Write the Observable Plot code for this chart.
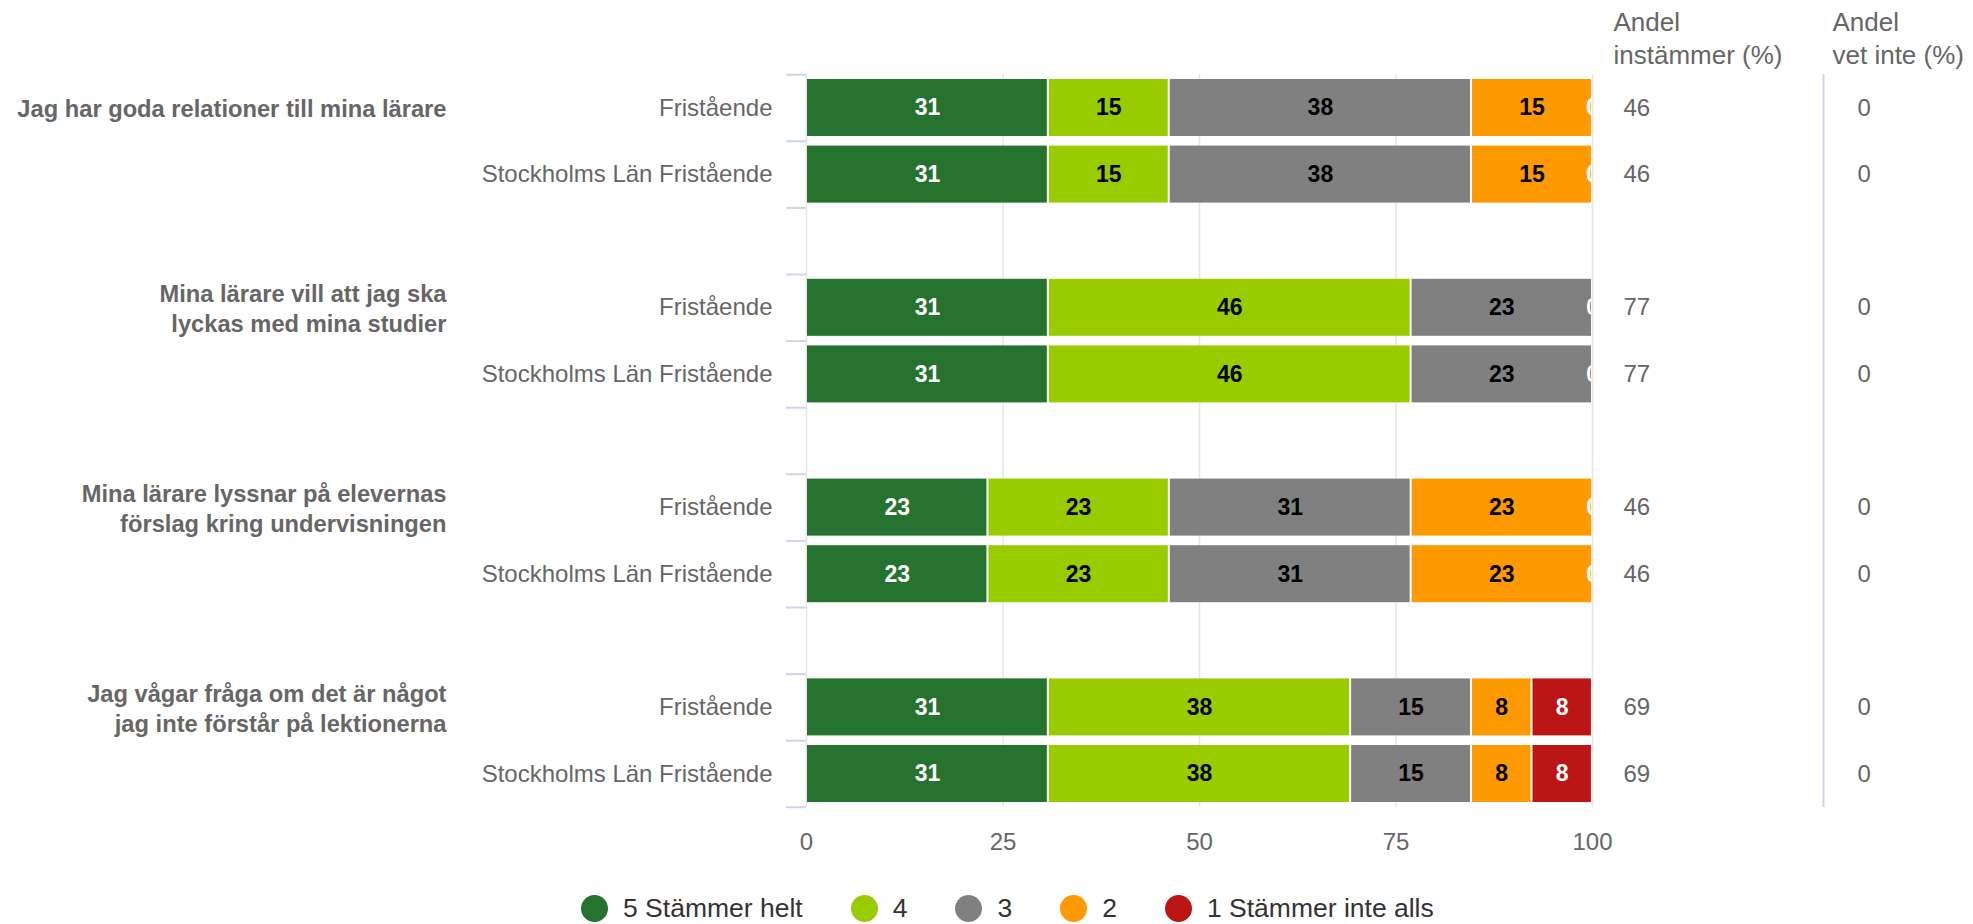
<!DOCTYPE html>
<html><head><meta charset="utf-8">
<script src="https://cdn.jsdelivr.net/npm/d3@7"></script>
<script src="https://cdn.jsdelivr.net/npm/@observablehq/plot@0.6"></script>
<style>
body{margin:0;background:#fff;font-family:"Liberation Sans",Arial,sans-serif;}
#wrap{position:relative;width:1973px;height:924px;overflow:hidden;}
#legend{position:absolute;left:581px;top:888px;height:40px;display:flex;align-items:center;font-size:26.5px;color:#333;white-space:nowrap;}
.item{display:flex;align-items:center;margin-right:48px;}
.dot{width:27px;height:27px;border-radius:50%;margin-right:15px;}
</style></head>
<body><div id="wrap"><div id="chart"></div><div id="legend"></div></div>
<script>
const questions = [
  "Jag har goda relationer till mina lärare",
  "Mina lärare vill att jag ska\nlyckas med mina studier",
  "Mina lärare lyssnar på elevernas\nförslag kring undervisningen",
  "Jag vågar fråga om det är något\njag inte förstår på lektionerna"
];
const groups = ["Fristående", "Stockholms Län Fristående"];
const categories = ["5 Stämmer helt", "4", "3", "2", "1 Stämmer inte alls"];
const colors = ["#267330", "#99cc00", "#808080", "#ff9900", "#bb1515"];
// one value per row: q1 Fristående, q1 Stockholm, q2 ..., q4 Stockholm
const cat5 = [30.77, 30.77, 30.77, 30.77, 23.08, 23.08, 30.77, 30.77];
const cat4 = [15.38, 15.38, 46.15, 46.15, 23.08, 23.08, 38.46, 38.46];
const cat3 = [38.46, 38.46, 23.08, 23.08, 30.77, 30.77, 15.38, 15.38];
const cat2 = [15.38, 15.38, 0, 0, 23.08, 23.08, 7.69, 7.69];
const cat1 = [0, 0, 0, 0, 0, 0, 7.69, 7.69];
const andelInstammer = [46, 46, 77, 77, 46, 46, 69, 69];
const andelVetInte = [0, 0, 0, 0, 0, 0, 0, 0];
const xTicks = [0, 25, 50, 75, 100];
const headers = ["Andel\ninstämmer (%)", "Andel\nvet inte (%)"];

const series = [cat5, cat4, cat3, cat2, cat1];
const whiteText = new Set([categories[0], categories[4]]);

// slots on the y band scale (rows plus spacer slots between questions)
const slots = [];
const rows = [];
questions.forEach((q, qi) => {
  groups.forEach((g, gi) => {
    const key = qi + "|" + gi;
    slots.push(key);
    rows.push({slot: key, qi, gi, idx: qi * 2 + gi});
  });
  if (qi < questions.length - 1) slots.push("gap" + qi);
});
const rowByKey = new Map(rows.map(r => [r.slot, r]));
const data = [];
rows.forEach(r => {
  categories.forEach((c, ci) => data.push({slot: r.slot, cat: c, value: series[ci][r.idx]}));
});

const W = 1973, H = 870, mt = 74, mb = 63, ml = 806, mr = 381;
const padIn = 0.144, padOut = 0.075;
const band = d3.scaleBand(slots, [mt, H - mb]).paddingInner(padIn).paddingOuter(padOut);
const half = band.step() / 2;
const gapHalf = (band.step() - band.bandwidth()) / 2;

const font = "Liberation Sans, Arial, sans-serif";
const chart = Plot.plot({
  width: W, height: H,
  marginTop: mt, marginBottom: mb, marginLeft: ml, marginRight: mr,
  style: {fontFamily: font, background: "white", overflow: "visible"},
  x: {domain: [0, 100]},
  y: {type: "band", domain: slots, paddingInner: padIn, paddingOuter: padOut, round: false},
  color: {domain: categories, range: colors},
  marks: [
    Plot.gridX(xTicks, {stroke: "#e6e6e6", strokeOpacity: 1, strokeWidth: 1.5}),
    Plot.ruleX(rows, {x: () => xTicks[0], y: "slot", stroke: "#ccd6eb", strokeWidth: 2, insetTop: -gapHalf, insetBottom: -gapHalf}),
    Plot.ruleY(rows, {y: "slot", x1: () => xTicks[0], x2: () => xTicks[0], insetLeft: -20, dy: -half, stroke: "#ccd6eb", strokeWidth: 2}),
    Plot.ruleY(rows.filter(r => r.gi === 1), {y: "slot", x1: () => xTicks[0], x2: () => xTicks[0], insetLeft: -20, dy: half, stroke: "#ccd6eb", strokeWidth: 2}),
    Plot.barX(data, Plot.stackX({y: "slot", x: "value", fill: "cat", insetLeft: 1, insetRight: 1})),
    Plot.text(data, Plot.stackX({y: "slot", x: "value", text: d => whiteText.has(d.cat) ? null : String(Math.round(d.value)), fill: "#000", fontSize: 23, fontWeight: "bold", clip: true})),
    Plot.text(data, Plot.stackX({y: "slot", x: "value", text: d => whiteText.has(d.cat) ? String(Math.round(d.value)) : null, fill: "#fff", fontSize: 23, fontWeight: "bold", clip: true})),
    Plot.ruleX([xTicks[4]], {dx: 231, stroke: "#ccd6eb", strokeWidth: 2}),
    Plot.axisX(xTicks, {tickSize: 0, tickPadding: 25, fontSize: 24, fill: "#666", label: null}),
    Plot.axisY({anchor: "left", tickSize: 0, tickPadding: 34, fontSize: 24, fill: "#666", label: null,
      tickFormat: k => rowByKey.has(k) ? groups[rowByKey.get(k).gi] : ""}),
    Plot.axisY({anchor: "left", tickSize: 0, tickPadding: 360, fontSize: 23.7, fontWeight: "bold", fill: "#666", lineHeight: 1.25, label: null,
      tickFormat: k => rowByKey.has(k) && rowByKey.get(k).gi === 0 ? questions[rowByKey.get(k).qi] : ""}),
    Plot.axisY({anchor: "right", tickSize: 0, tickPadding: 31, fontSize: 24, fill: "#666", label: null,
      tickFormat: k => rowByKey.has(k) ? String(andelInstammer[rowByKey.get(k).idx]) : ""}),
    Plot.axisY({anchor: "right", tickSize: 0, tickPadding: 265, fontSize: 24, fill: "#666", label: null,
      tickFormat: k => rowByKey.has(k) ? String(andelVetInte[rowByKey.get(k).idx]) : ""}),
    Plot.text([headers[0]], {frameAnchor: "top-right", dx: 21, dy: -67, textAnchor: "start", lineAnchor: "top", lineHeight: 1.28, fontSize: 26, fill: "#666", text: d => d}),
    Plot.text([headers[1]], {frameAnchor: "top-right", dx: 240, dy: -67, textAnchor: "start", lineAnchor: "top", lineHeight: 1.28, fontSize: 26, fill: "#666", text: d => d})
  ]
});
document.getElementById("chart").appendChild(chart);

const legend = document.getElementById("legend");
categories.forEach((c, i) => {
  const item = document.createElement("div");
  item.className = "item";
  const dot = document.createElement("span");
  dot.className = "dot";
  dot.style.background = colors[i];
  const label = document.createElement("span");
  label.textContent = c;
  item.appendChild(dot);
  item.appendChild(label);
  legend.appendChild(item);
});
</script>
</body></html>
